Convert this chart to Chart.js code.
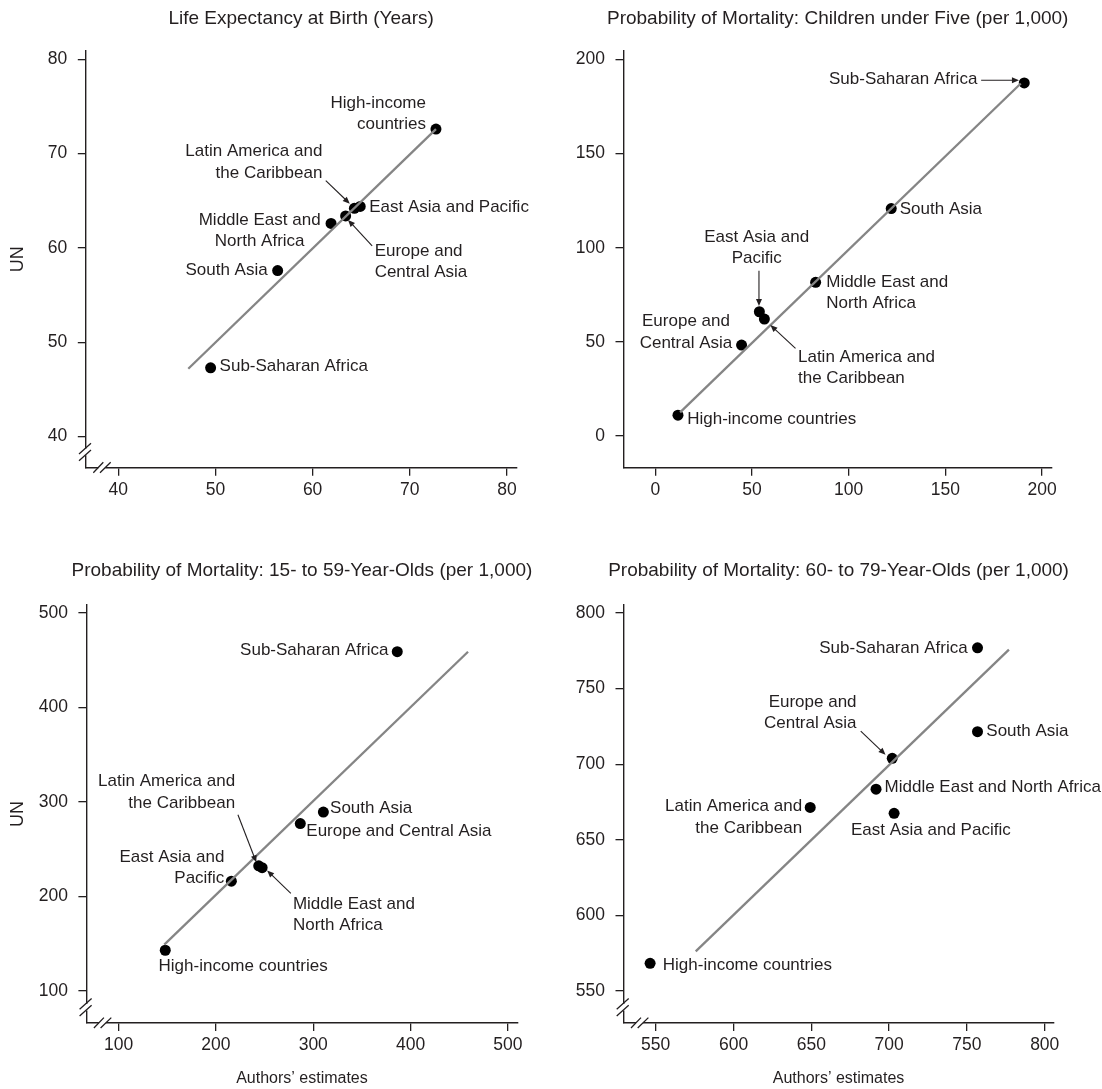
<!DOCTYPE html>
<html>
<head>
<meta charset="utf-8">
<script src="https://cdn.jsdelivr.net/npm/chart.js@4.4.1/dist/chart.umd.min.js"></script>
<style>
  body { margin: 0; background: #fff; width: 1102px; height: 1089px; position: relative; overflow: hidden; }
  canvas { position: absolute; }
</style>
</head>
<body>
<canvas id="life" width="551" height="540" style="left:0;top:0"></canvas>
<canvas id="child" width="551" height="540" style="left:551px;top:0"></canvas>
<canvas id="adult" width="551" height="549" style="left:0;top:540px"></canvas>
<canvas id="elder" width="551" height="549" style="left:551px;top:540px"></canvas>
<script>
// order: high-income, LAC, EAP, ECA, MENA, South Asia, SSA
const regions = ['High-income countries', 'Latin America and the Caribbean', 'East Asia and Pacific',
  'Europe and Central Asia', 'Middle East and North Africa', 'South Asia', 'Sub-Saharan Africa'];

const lifeAuthors = [72.7, 64.3, 64.9, 63.4, 61.9, 56.4, 49.5];
const lifeUN      = [72.6, 64.2, 64.4, 63.4, 62.6, 57.6, 47.3];
const lifeFitX = [47.2, 72.7];
const lifeFitY = [47.2, 72.6];
const lifeTicks = [40, 50, 60, 70, 80];

const childAuthors = [11.7, 56.4, 53.8, 44.6, 82.9, 122.0, 190.8];
const childUN      = [11.1, 62.1, 66.0, 48.3, 81.6, 120.8, 187.5];
const childFitX = [12.8, 189];
const childFitY = [12.6, 187.2];
const childTicks = [0, 50, 100, 150, 200];

const adultAuthors = [148, 244, 215.9, 286.7, 247.5, 310.4, 386.3];
const adultUN      = [143.1, 232.5, 216.2, 277.2, 230.5, 289.4, 459.1];
const adultFitX = [147, 459];
const adultFitY = [149, 459];
const adultTicks = [100, 200, 300, 400, 500];

const elderAuthors = [546.4, 649.3, 703.2, 702, 691.6, 756.8, 756.8];
const elderUN      = [568.3, 671.4, 667.5, 703.9, 683.5, 721.5, 777];
const elderFitX = [575.7, 777];
const elderFitY = [576.2, 775.8];
const elderTicks = [550, 600, 650, 700, 750, 800];

const INK = '#231f20';
const F_TITLE = '19px "Liberation Sans", Arial, sans-serif';
const F_LABEL = '17px "Liberation Sans", Arial, sans-serif';
const F_AXIS = '16px "Liberation Sans", Arial, sans-serif';
const F_UN = '18px "Liberation Sans", Arial, sans-serif';
const TICK_FONT = { family: '"Liberation Sans", Arial, sans-serif', size: 17.5 };

function arrow(ctx, x1, y1, x2, y2) {
  const a = Math.atan2(y2 - y1, x2 - x1), h = 7, w = 3;
  ctx.beginPath();
  ctx.moveTo(x1, y1);
  ctx.lineTo(x2 - Math.cos(a) * h * 0.7, y2 - Math.sin(a) * h * 0.7);
  ctx.stroke();
  ctx.beginPath();
  ctx.moveTo(x2, y2);
  ctx.lineTo(x2 - h * Math.cos(a) + w * Math.sin(a), y2 - h * Math.sin(a) - w * Math.cos(a));
  ctx.lineTo(x2 - h * Math.cos(a) - w * Math.sin(a), y2 - h * Math.sin(a) + w * Math.cos(a));
  ctx.closePath();
  ctx.fill();
}

function axisBreaks(ctx, a) {
  const L = a.left, B = a.bottom;
  ctx.fillStyle = '#fff';
  ctx.fillRect(L - 2, B - 19, 4, 6.5);
  ctx.fillRect(L + 12.5, B - 2, 7, 4);
  ctx.lineWidth = 1.3;
  ctx.beginPath();
  ctx.moveTo(L - 6.8, B - 13.7); ctx.lineTo(L + 5.2, B - 24.4);
  ctx.moveTo(L - 6.8, B - 7);    ctx.lineTo(L + 5.2, B - 17.7);
  ctx.moveTo(L + 7.5, B + 5);    ctx.lineTo(L + 17.5, B - 5.4);
  ctx.moveTo(L + 14.2, B + 5);   ctx.lineTo(L + 24.9, B - 5.4);
  ctx.stroke();
}

const decor = {
  id: 'decor',
  afterDraw(chart, args, o) {
    const ctx = chart.ctx, a = chart.chartArea;
    const xs = chart.scales.x, ys = chart.scales.y;
    ctx.save();
    ctx.fillStyle = INK;
    ctx.strokeStyle = INK;
    ctx.textBaseline = 'middle';

    ctx.font = F_TITLE;
    ctx.textAlign = 'center';
    ctx.fillText(o.title, (a.left + a.right) / 2, o.titleY);

    if (o.yTitle) {
      ctx.save();
      ctx.font = F_UN;
      ctx.translate(17.7, (a.top + a.bottom) / 2);
      ctx.rotate(-Math.PI / 2);
      ctx.fillText('UN', 0, 0);
      ctx.restore();
    }
    if (o.xTitle) {
      ctx.font = F_AXIS;
      ctx.fillText('Authors\u2019 estimates', (a.left + a.right) / 2, o.xTitleY);
    }

    ctx.font = F_LABEL;
    ctx.lineWidth = 1.1;
    o.labels.forEach(l => {
      const px = xs.getPixelForValue(o.xv[l.i]);
      const py = ys.getPixelForValue(o.yv[l.i]);
      ctx.textAlign = l.align;
      l.lines.forEach((t, k) => ctx.fillText(t, px + l.dx, py + l.dy[k]));
      if (l.arrow) arrow(ctx, px + l.arrow[0], py + l.arrow[1], px + l.arrow[2], py + l.arrow[3]);
    });

    if (o.breaks) axisBreaks(ctx, a);
    ctx.restore();
  }
};

function makePanel(id, p) {
  const axisStyle = (ticks, fit) => ({
    type: 'linear',
    afterBuildTicks: s => { s.ticks = ticks.map(v => ({ value: v })); },
    afterFit: fit,
    border: { display: true, color: INK, width: 1.4 },
    grid: { display: true, drawOnChartArea: false, drawTicks: true, tickLength: 8, color: INK, lineWidth: 1.3 },
  });
  const xAxis = axisStyle(p.ticks, s => { s.height = p.xH; });
  xAxis.min = p.xRange[0]; xAxis.max = p.xRange[1];
  xAxis.ticks = { color: INK, padding: 4, font: TICK_FONT };
  const yAxis = axisStyle(p.ticks, s => { s.width = p.yW; });
  yAxis.min = p.yRange[0]; yAxis.max = p.yRange[1];
  yAxis.ticks = { color: INK, padding: 10.5, font: TICK_FONT };

  new Chart(document.getElementById(id), {
    type: 'scatter',
    data: {
      datasets: [
        {
          type: 'line',
          data: p.fitX.map((x, k) => ({ x: x, y: p.fitY[k] })),
          borderColor: '#858585', borderWidth: 2.3, pointRadius: 0, fill: false
        },
        {
          data: p.xv.map((x, k) => ({ x: x, y: p.yv[k] })),
          backgroundColor: '#000', borderWidth: 0, pointRadius: 5.5
        }
      ]
    },
    options: {
      responsive: false,
      animation: false,
      events: [],
      layout: { padding: { left: 0, top: p.top, right: p.right, bottom: 0 } },
      scales: { x: xAxis, y: yAxis },
      plugins: {
        legend: { display: false },
        tooltip: { enabled: false },
        decor: p.decor
      }
    },
    plugins: [decor]
  });
}

makePanel('life', {
  xv: lifeAuthors, yv: lifeUN, fitX: lifeFitX, fitY: lifeFitY, ticks: lifeTicks,
  xRange: [36.65, 80.98], yRange: [36.71, 80.91],
  top: 50.7, right: 34.6, yW: 85.8, xH: 72.3,
  decor: {
    xv: lifeAuthors, yv: lifeUN,
    title: 'Life Expectancy at Birth (Years)', titleY: 18.3, yTitle: true, xTitle: false, breaks: true,
    labels: [
      { i: 0, lines: ['High-income', 'countries'], align: 'right', dx: -10, dy: [-25.4, -4.7] },
      { i: 1, lines: ['Latin America and', 'the Caribbean'], align: 'right', dx: -32, dy: [-57, -35.4], arrow: [-28.6, -27.7, -4.6, -4.7] },
      { i: 2, lines: ['East Asia and Pacific'], align: 'left', dx: 9, dy: [0.6] },
      { i: 3, lines: ['Europe and', 'Central Asia'], align: 'left', dx: 29, dy: [35.7, 56.7], arrow: [26.5, 30, 2.4, 4] },
      { i: 4, lines: ['Middle East and', 'North Africa'], align: 'center', dx: -71.4, dy: [-3.3, 17.4] },
      { i: 5, lines: ['South Asia'], align: 'right', dx: -10, dy: [-0.3] },
      { i: 6, lines: ['Sub-Saharan Africa'], align: 'left', dx: 9, dy: [-1] }
    ]
  }
});

makePanel('child', {
  xv: childAuthors, yv: childUN, fitX: childFitX, fitY: childFitY, ticks: childTicks,
  xRange: [-16.47, 205.1], yRange: [-16.8, 204.6],
  top: 50.7, right: 50.1, yW: 72.5, xH: 72.3,
  decor: {
    xv: childAuthors, yv: childUN,
    title: 'Probability of Mortality: Children under Five (per 1,000)', titleY: 18.3, yTitle: false, xTitle: false, breaks: false,
    labels: [
      { i: 0, lines: ['High-income countries'], align: 'left', dx: 9.2, dy: [4.3] },
      { i: 1, lines: ['Latin America and', 'the Caribbean'], align: 'left', dx: 33.6, dy: [38.7, 59.3], arrow: [31.1, 29.3, 6, 6] },
      { i: 2, lines: ['East Asia and', 'Pacific'], align: 'center', dx: -2.7, dy: [-74, -53.4], arrow: [-0.4, -41, -0.4, -5.7] },
      { i: 3, lines: ['Europe and', 'Central Asia'], align: 'center', dx: -55.6, dy: [-23.3, -1.7] },
      { i: 4, lines: ['Middle East and', 'North Africa'], align: 'left', dx: 10.6, dy: [0.4, 21] },
      { i: 5, lines: ['South Asia'], align: 'left', dx: 8.5, dy: [1] },
      { i: 6, lines: ['Sub-Saharan Africa'], align: 'right', dx: -46.9, dy: [-3.4], arrow: [-43.1, -2.7, -5.3, -2.7] }
    ]
  }
});

makePanel('adult', {
  xv: adultAuthors, yv: adultUN, fitX: adultFitX, fitY: adultFitY, ticks: adultTicks,
  xRange: [67, 509.8], yRange: [66.1, 508.5],
  top: 65, right: 33.5, yW: 86.4, xH: 66,
  decor: {
    xv: adultAuthors, yv: adultUN,
    title: 'Probability of Mortality: 15- to 59-Year-Olds (per 1,000)', titleY: 30.9, yTitle: true, xTitle: true, xTitleY: 538.6, breaks: true,
    labels: [
      { i: 0, lines: ['High-income countries'], align: 'left', dx: -6.7, dy: [16.2] },
      { i: 1, lines: ['Latin America and', 'the Caribbean'], align: 'right', dx: -23.6, dy: [-84.4, -62.6], arrow: [-20.8, -51, -2.4, -3.5] },
      { i: 2, lines: ['East Asia and', 'Pacific'], align: 'right', dx: -7, dy: [-23.6, -2.5] },
      { i: 3, lines: ['Europe and Central Asia'], align: 'left', dx: 6, dy: [7.7] },
      { i: 4, lines: ['Middle East and', 'North Africa'], align: 'left', dx: 30.8, dy: [36.3, 57.4], arrow: [28.7, 25.7, 5, 2.9] },
      { i: 5, lines: ['South Asia'], align: 'left', dx: 6.7, dy: [-3.5] },
      { i: 6, lines: ['Sub-Saharan Africa'], align: 'right', dx: -8.8, dy: [-1.8] }
    ]
  }
});

makePanel('elder', {
  xv: elderAuthors, yv: elderUN, fitX: elderFitX, fitY: elderFitY, ticks: elderTicks,
  xRange: [529.3, 805.7], yRange: [528.8, 805.3],
  top: 65, right: 48.4, yW: 72.5, xH: 66,
  decor: {
    xv: elderAuthors, yv: elderUN,
    title: 'Probability of Mortality: 60- to 79-Year-Olds (per 1,000)', titleY: 30.9, yTitle: false, xTitle: true, xTitleY: 538.6, breaks: true,
    labels: [
      { i: 0, lines: ['High-income countries'], align: 'left', dx: 12.7, dy: [1.8] },
      { i: 1, lines: ['Latin America and', 'the Caribbean'], align: 'right', dx: -8.1, dy: [-0.7, 20.4] },
      { i: 2, lines: ['East Asia and Pacific'], align: 'left', dx: -43.1, dy: [17.2] },
      { i: 3, lines: ['Europe and', 'Central Asia'], align: 'right', dx: -35.7, dy: [-56.3, -35.2], arrow: [-31.5, -27.1, -6.7, -3.6] },
      { i: 4, lines: ['Middle East and North Africa'], align: 'left', dx: 8.5, dy: [-1.7] },
      { i: 5, lines: ['South Asia'], align: 'left', dx: 8.8, dy: [-0.3] },
      { i: 6, lines: ['Sub-Saharan Africa'], align: 'right', dx: -9.9, dy: [0.4] }
    ]
  }
});
</script>
</body>
</html>
